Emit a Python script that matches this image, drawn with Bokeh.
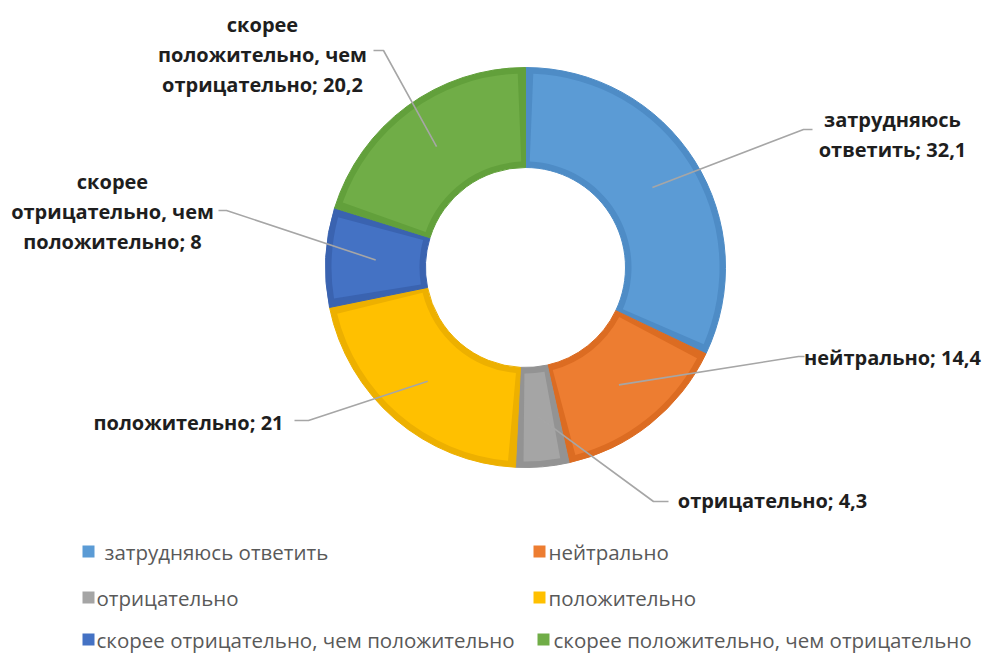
import math
import textwrap
from bokeh.plotting import figure
from bokeh.models import Range1d, ColumnDataSource
from bokeh.core.properties import value
from bokeh.embed import file_html
from bokeh.resources import INLINE

# ---- data ----
categories = ["затрудняюсь ответить", "нейтрально", "отрицательно", "положительно",
              "скорее отрицательно, чем положительно", "скорее положительно, чем отрицательно"]
values = [32.1, 14.4, 4.3, 21, 8, 20.2]
fill_colors = ["#5B9BD5", "#ED7D31", "#A5A5A5", "#FFC000", "#4472C4", "#70AD47"]
edge_colors = ["#4E8CC6", "#DC6C22", "#939393", "#EDB000", "#3A63B0", "#62A03B"]

# ---- layout (reference pixel coordinates, y downward) ----
W, H = 986, 653
CX, CY = 525, 267
R_OUT, R_IN = 200, 100
EDGE = 6
label_wrap = [15, 30, 30, 30, 18, 18]
label_center = [(892, 119), (892, 357), (772, 500), (188, 422), (112, 181), (262, 24)]
line_gap = 30
leader_bend = [(803, 129), (798, 356), (653, 501), (308, 420), (226, 210), (383, 50)]
leader_end = [(812, 129), (804, 356), (668, 501), (294, 420), (218, 210), (373, 50)]
legend_marker = [(88, 551), (539, 551), (88, 597), (539, 597), (88, 639), (543, 639)]
legend_text_x = [104, 548, 96, 548, 96, 553]


def fy(y):
    return H - y


p = figure(width=W, height=H, output_backend="svg", toolbar_location=None,
           x_range=Range1d(0, W), y_range=Range1d(0, H),
           x_axis_location=None, y_axis_location=None, min_border=0)
p.grid.visible = False
p.outline_line_color = None
p.background_fill_color = "white"
p.border_fill_color = "white"

total = sum(values)
starts, ends, mids = [], [], []
acc = 0.0
for v in values:
    a0 = math.pi / 2 - 2 * math.pi * acc / total
    acc += v
    a1 = math.pi / 2 - 2 * math.pi * acc / total
    starts.append(a0)
    ends.append(a1)
    mids.append((a0 + a1) / 2)

n = len(values)
src = ColumnDataSource(dict(x=[CX] * n, y=[fy(CY)] * n, start=starts, end=ends,
                            fill=fill_colors, edge=edge_colors))
p.annular_wedge(x="x", y="y", inner_radius=R_IN, outer_radius=R_OUT,
                start_angle="start", end_angle="end", direction="clock",
                fill_color="edge", line_color="edge", line_width=1, source=src)
inset = EDGE / 150.0
src2 = ColumnDataSource(dict(x=[CX] * n, y=[fy(CY)] * n,
                             start=[s - inset for s in starts], end=[e + inset for e in ends],
                             fill=fill_colors))
p.annular_wedge(x="x", y="y", inner_radius=R_IN + EDGE, outer_radius=R_OUT - EDGE,
                start_angle="start", end_angle="end", direction="clock",
                fill_color="fill", line_color=None, source=src2)

# leader lines
xs, ys = [], []
for i in range(n):
    sx = CX + 150 * math.cos(mids[i])
    sy = fy(CY) + 150 * math.sin(mids[i])
    xs.append([sx, leader_bend[i][0], leader_end[i][0]])
    ys.append([sy, fy(leader_bend[i][1]), fy(leader_end[i][1])])
p.multi_line(xs=xs, ys=ys, line_color="#A6A6A6", line_width=1.6)

# data labels
tx, ty, tt = [], [], []
for i in range(n):
    val = f"{values[i]:g}".replace(".", ",")
    lines = textwrap.wrap(f"{categories[i]}; {val}", label_wrap[i])
    cx, cy = label_center[i]
    for k, ln in enumerate(lines):
        tx.append(cx)
        ty.append(fy(cy + k * line_gap))
        tt.append(ln)
p.text(x=tx, y=ty, text=tt, text_align="center", text_baseline="middle",
       text_font=value("Open Sans"), text_font_style="bold", text_font_size="20px",
       text_color="#1E1E1E")

# legend
p.scatter(x=[m[0] for m in legend_marker], y=[fy(m[1]) for m in legend_marker],
          marker="square", size=12, fill_color=fill_colors, line_color=None)
p.text(x=legend_text_x, y=[fy(m[1]) for m in legend_marker], text=categories,
       text_align="left", text_baseline="middle",
       text_font=value("Open Sans"), text_font_size="20.5px", text_color="#595959")

open("out.html", "w").write(file_html(p, INLINE))
